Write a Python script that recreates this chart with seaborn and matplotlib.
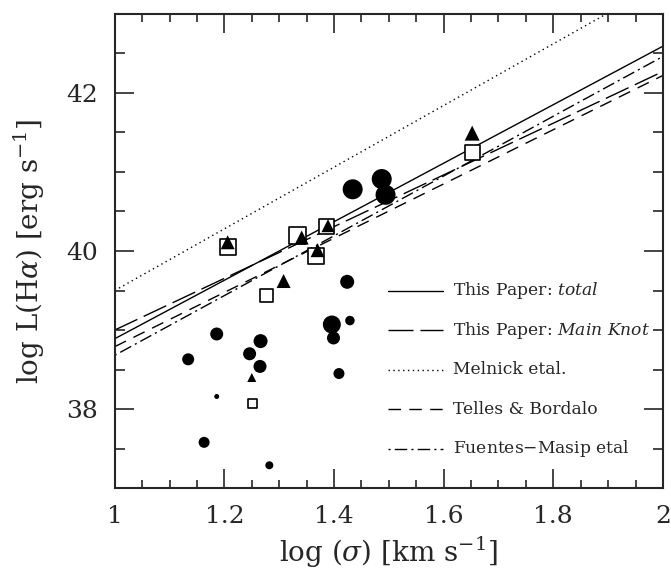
import matplotlib
matplotlib.use("Agg")
import pandas as pd
import matplotlib.pyplot as plt
import seaborn as sns
from matplotlib.ticker import MultipleLocator, FormatStrFormatter

# filled circles: log sigma, log L(Halpha), marker diameter (px)
circ_x = [1.434, 1.487, 1.494, 1.396, 1.424, 1.429, 1.186, 1.266, 1.399, 1.134, 1.246, 1.265, 1.409, 1.186, 1.163, 1.282]
circ_y = [40.78, 40.91, 40.71, 39.07, 39.61, 39.12, 38.95, 38.86, 38.90, 38.63, 38.70, 38.54, 38.45, 38.16, 37.58, 37.29]
circ_d = [20, 20, 20, 18, 14, 9.5, 13, 14, 13, 12, 13, 13, 11, 5, 11, 8]

# open squares
sq_x = [1.652, 1.334, 1.387, 1.206, 1.367, 1.276, 1.252]
sq_y = [41.24, 40.20, 40.31, 40.05, 39.94, 39.44, 38.07]
sq_d = [15, 17, 15, 16, 16, 13, 9]

# filled triangles
tri_x = [1.652, 1.341, 1.389, 1.206, 1.370, 1.308, 1.250]
tri_y = [41.49, 40.17, 40.32, 40.11, 40.01, 39.62, 38.40]
tri_d = [15, 14, 13, 14, 14, 14, 9]

# relations, value at log sigma = 1 and 2
fit_names = ["This Paper: $\\mathit{total}$", "This Paper: $\\mathit{Main\\ Knot}$",
             "Melnick etal.", "Telles & Bordalo", "Fuentes$-$Masip etal"]
fit_y1 = [38.89, 39.00, 39.50, 38.79, 38.68]
fit_y2 = [42.59, 42.27, 43.40, 42.22, 42.46]
fit_dash = [(None), (18, 5), (1, 2.5), (9, 6), (1.5, 3, 9, 3)]

sns.set_style("ticks")
plt.rcParams['font.family'] = ['DejaVu Serif']
plt.rcParams['mathtext.fontset'] = 'dejavuserif'

fig = plt.figure(figsize=(6.71, 5.73), dpi=100)
ax = fig.add_axes([0.171, 0.148, 0.817, 0.828])

def area(d):
    return [(v * 0.72) ** 2 for v in d]

# fit lines + in-plot legend
for i, name in enumerate(fit_names):
    df = pd.DataFrame({'x': [1.0, 2.0], 'y': [fit_y1[i], fit_y2[i]]})
    sns.lineplot(data=df, x='x', y='y', ax=ax, color='black', lw=1)
    if fit_dash[i] is not None:
        ax.lines[-1].set_dashes(fit_dash[i])
    yk = 39.5 - 0.5 * i
    key = pd.DataFrame({'x': [1.498, 1.599], 'y': [yk, yk]})
    sns.lineplot(data=key, x='x', y='y', ax=ax, color='black', lw=1)
    if fit_dash[i] is not None:
        ax.lines[-1].set_dashes(fit_dash[i])
    ax.text(1.617, yk, name, fontsize=12.3, va='center', ha='left')

circ = pd.DataFrame({'x': circ_x, 'y': circ_y})
sq = pd.DataFrame({'x': sq_x, 'y': sq_y})
tri = pd.DataFrame({'x': tri_x, 'y': tri_y})

sns.scatterplot(data=circ, x='x', y='y', ax=ax, marker='o', s=area(circ_d),
                color='black', edgecolor='black', linewidth=0, zorder=3)
sns.scatterplot(data=sq, x='x', y='y', ax=ax, marker='s', s=area(sq_d),
                facecolor='white', edgecolor='black', linewidth=1.2, zorder=3)
sns.scatterplot(data=tri, x='x', y='y', ax=ax, marker='^', s=area(tri_d),
                color='black', edgecolor='black', linewidth=0, zorder=4)

ax.set_xlim(1, 2)
ax.set_ylim(37, 43)
ax.xaxis.set_major_locator(MultipleLocator(0.2))
ax.xaxis.set_minor_locator(MultipleLocator(0.05))
ax.yaxis.set_major_locator(MultipleLocator(2))
ax.yaxis.set_minor_locator(MultipleLocator(0.5))
ax.xaxis.set_major_formatter(FormatStrFormatter('%g'))
ax.yaxis.set_major_formatter(FormatStrFormatter('%g'))
ax.tick_params(which='both', direction='in', top=True, right=True, width=1.2, labelsize=18)
ax.tick_params(axis='x', which='major', length=14, pad=12)
ax.tick_params(axis='x', which='minor', length=6)
ax.tick_params(axis='y', which='major', length=14, pad=12)
ax.tick_params(axis='y', which='minor', length=7)
for s in ax.spines.values():
    s.set_linewidth(1.5)

ax.set_xlabel('log ($\\sigma$) [km s$^{-1}$]', fontsize=20, labelpad=5)
ax.set_ylabel('log L(H$\\alpha$) [erg s$^{-1}$]', fontsize=20, labelpad=14)

fig.savefig('out.png', dpi=100)
